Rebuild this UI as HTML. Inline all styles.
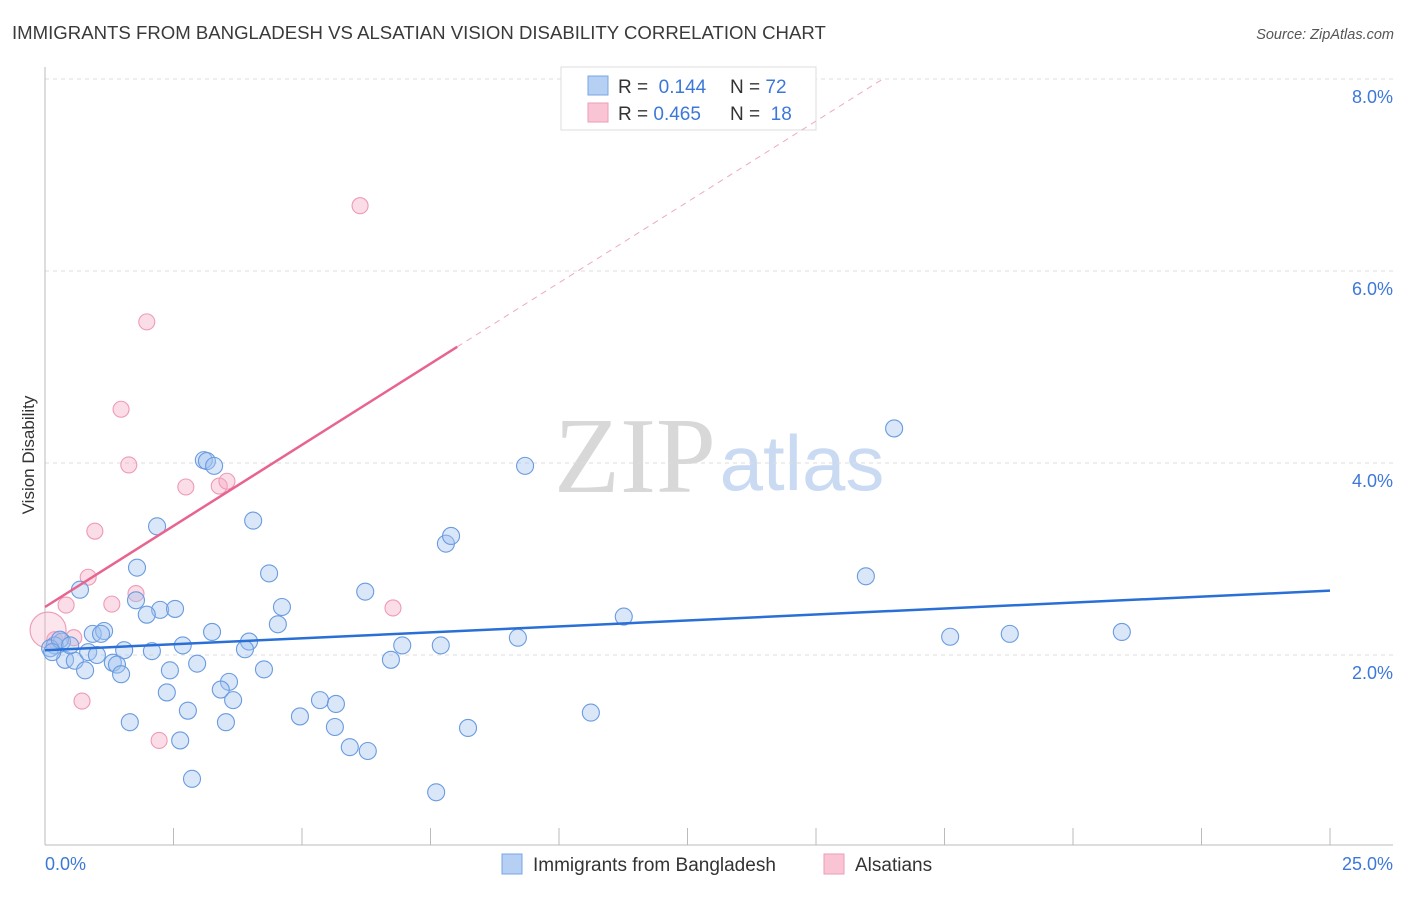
<!DOCTYPE html>
<html><head><meta charset="utf-8"><style>
body{margin:0;background:#fff;font-family:"Liberation Sans",sans-serif}
svg text{font-family:"Liberation Sans",sans-serif}
</style></head><body>
<svg id="chart" width="1406" height="892" xmlns="http://www.w3.org/2000/svg">
<text x="12" y="39" font-size="18.6" fill="#3a3a3a">IMMIGRANTS FROM BANGLADESH VS ALSATIAN VISION DISABILITY CORRELATION CHART</text>
<text x="1394" y="39" font-size="14.5" fill="#555" font-style="italic" text-anchor="end">Source: ZipAtlas.com</text>
<g>
<text x="635" y="492" font-size="108" fill="#d8d8d8" text-anchor="middle" style="font-family:'Liberation Serif',serif">ZIP</text>
<text x="802" y="490" font-size="78" fill="#c9daf2" text-anchor="middle">atlas</text>
</g>
<g id="grid"></g>
<g id="axes"></g>
<g id="lines"></g>
<g id="points"></g>
<text transform="translate(34,455) rotate(-90)" font-size="17" fill="#333" text-anchor="middle">Vision Disability</text>
<g>
<rect x="561" y="67" width="255" height="63" fill="#fff" stroke="#ddd"/>
<rect x="588" y="76" width="20" height="19" fill="#b6d0f3" stroke="#7aa5e3"/>
<rect x="588" y="103" width="20" height="19" fill="#f9c5d5" stroke="#ee9db7"/>
<text x="618" y="93" font-size="19" fill="#333">R = <tspan fill="#3c78d8">&#160;0.144</tspan></text>
<text x="730" y="93" font-size="19" fill="#333">N = <tspan fill="#3c78d8">72</tspan></text>
<text x="618" y="120" font-size="19" fill="#333">R = <tspan fill="#3c78d8">0.465</tspan></text>
<text x="730" y="120" font-size="19" fill="#333">N = <tspan fill="#3c78d8">&#160;18</tspan></text>
</g>
<g>
<rect x="502" y="854" width="20" height="20" fill="#b6d0f3" stroke="#7aa5e3"/>
<text x="533" y="871" font-size="19" fill="#333">Immigrants from Bangladesh</text>
<rect x="824" y="854" width="20" height="20" fill="#f9c5d5" stroke="#ee9db7"/>
<text x="855" y="871" font-size="19" fill="#333">Alsatians</text>
</g>
</svg>
<script>
const yTicks=[2,4,6,8];
const yTickLabels=["2.0%","4.0%","6.0%","8.0%"];
const xTickLabels=["0.0%","25.0%"];
const blueX=[2.18,4.05,3.09,3.15,3.29,1.79,0.68,4.36,4.61,2.24,2.53,1.98,1.77,0.93,1.15,1.09,1.54,2.08,2.68,3.25,3.97,3.89,4.53,0.33,0.19,0.10,0.39,0.58,0.84,1.01,0.78,1.32,1.40,1.48,2.43,2.96,3.58,4.26,3.42,2.37,3.66,1.65,2.78,2.63,3.52,2.86,4.96,5.35,5.66,5.64,5.93,6.28,6.23,6.73,6.95,7.70,7.80,7.90,8.23,7.61,9.20,9.34,10.62,11.26,15.97,16.52,17.61,18.77,20.95,0.29,0.49,0.14];
const blueY=[3.34,3.40,4.03,4.02,3.97,2.91,2.68,2.85,2.50,2.47,2.48,2.42,2.57,2.22,2.25,2.22,2.05,2.04,2.10,2.24,2.14,2.06,2.32,2.14,2.10,2.07,1.95,1.94,2.03,2.00,1.84,1.92,1.90,1.80,1.84,1.91,1.72,1.85,1.64,1.61,1.53,1.30,1.42,1.11,1.30,0.71,1.36,1.53,1.49,1.25,1.04,1.00,2.66,1.95,2.10,2.10,3.16,3.24,1.24,0.57,2.18,3.97,1.40,2.40,2.82,4.36,2.19,2.22,2.24,2.16,2.10,2.03];
const pinkX=[0.41,0.97,0.84,1.30,1.77,1.63,1.48,1.98,2.74,3.39,3.54,6.13,6.77,2.22,0.72,0.56,0.19,0.06];
const pinkY=[2.52,3.29,2.81,2.53,2.64,3.98,4.56,5.47,3.75,3.76,3.81,6.68,2.49,1.11,1.52,2.18,2.16,2.26];
const blueTrend=[[0,2.05],[25,2.67]];
const pinkTrend=[[0,2.5],[8.02,5.21]];
const pinkTrendExt=[[8.02,5.21],[16.3,8.0]];

const X0=45,X1=1330,Y0=847,PPY=96;
const sx=v=>X0+(X1-X0)*v/25;
const sy=v=>Y0-v*PPY;
const NS="http://www.w3.org/2000/svg";
function mk(tag,attrs,parent){const e=document.createElementNS(NS,tag);for(const k in attrs)e.setAttribute(k,attrs[k]);parent.appendChild(e);return e;}
const grid=document.getElementById('grid'),axes=document.getElementById('axes'),lines=document.getElementById('lines'),pts=document.getElementById('points');
yTicks.forEach((t,i)=>{
 const l=mk('line',{x1:X0,x2:1393,y1:sy(t),y2:sy(t),stroke:'#ddd','stroke-dasharray':'4,4'},grid);
 
 
 const tx=mk('text',{x:1393,y:sy(t)+24,'font-size':18,fill:'#3c78d8','text-anchor':'end'},axes);
 tx.textContent=yTickLabels[i];
 
 
});
const ax=mk('line',{x1:X0,x2:X0,y1:67,y2:845,stroke:'#bbb'},axes);


const bx=mk('line',{x1:X0,x2:1393,y1:845,y2:845,stroke:'#bbb'},axes);


for(let i=0;i<=10;i++){
 const v=i*2.5;
 const t=mk('line',{x1:sx(v),x2:sx(v),y1:828,y2:845,stroke:'#bbb'},axes);
 
 
}
const xl0=mk('text',{x:45,y:870,'font-size':18,fill:'#3c78d8'},axes);
xl0.textContent=xTickLabels[0];


const xl1=mk('text',{x:1393,y:870,'font-size':18,fill:'#3c78d8','text-anchor':'end'},axes);
xl1.textContent=xTickLabels[1];



pinkX.forEach((x,i)=>{
 const big=i===pinkX.length-1;
 const c=mk('circle',{cx:sx(x),cy:sy(pinkY[i]),r:big?18:8,fill:big?'rgba(246,170,194,0.3)':'rgba(246,170,194,0.4)',stroke:'#ef9ab5','stroke-width':1.1},pts);
 
 
});
blueX.forEach((x,i)=>{
 const c=mk('circle',{cx:sx(x),cy:sy(blueY[i]),r:8.5,fill:'rgba(160,195,240,0.4)',stroke:'#6a9be0','stroke-width':1.1},pts);
 
 
});
const bl=mk('line',{x1:sx(blueTrend[0][0]),y1:sy(blueTrend[0][1]),x2:sx(blueTrend[1][0]),y2:sy(blueTrend[1][1]),stroke:'#2a6fd6','stroke-width':2.5},lines);


const pl=mk('line',{x1:sx(pinkTrend[0][0]),y1:sy(pinkTrend[0][1]),x2:sx(pinkTrend[1][0]),y2:sy(pinkTrend[1][1]),stroke:'#e8648e','stroke-width':2.5},lines);


const pe=mk('line',{x1:sx(pinkTrendExt[0][0]),y1:sy(pinkTrendExt[0][1]),x2:sx(pinkTrendExt[1][0]),y2:sy(pinkTrendExt[1][1]),stroke:'#eeaabd','stroke-width':1,'stroke-dasharray':'6,5'},lines);


document.getElementById('chart').insertBefore(pts,document.getElementById('chart').lastElementChild);
document.getElementById('chart').insertBefore(lines,document.getElementById('chart').lastElementChild);
</script>
</body></html>
